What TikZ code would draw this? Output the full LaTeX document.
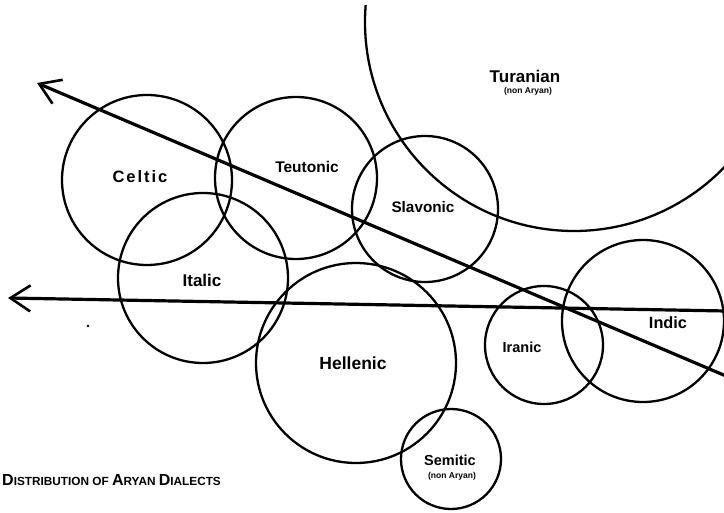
\documentclass[tikz,border=0pt]{standalone}
\usepackage{fontspec}
\setmainfont{Liberation Sans}
\usetikzlibrary{arrows.meta}
\tikzset{
  ring/.style={circle, draw=black, line width=2.3pt, inner sep=0pt, outer sep=0pt},
  lbl/.style={font=\bfseries, inner sep=0pt, text=black},
  sub/.style={font=\bfseries\fontsize{8.5}{9}\selectfont, inner sep=0pt, text=black},
  axis/.style={line width=3.2pt, -{Straight Barb[length=20pt,width=26pt,line width=2.6pt]}},
}
\newcommand{\ttlBig}[1]{\fontsize{16}{18}\selectfont #1}
\newcommand{\ttlSm}[1]{\fontsize{11.8}{18}\selectfont #1}
\begin{document}
\begin{tikzpicture}[x=1pt,y=-1pt]
\useasboundingbox (0,0) rectangle (724,513);
\clip (0,0) rectangle (724,513);
\fill[white] (0,0) rectangle (724,513);
% circles
\begin{scope}
\clip (0,6) rectangle (724,513);
\node[ring, minimum size=418pt] (turanian) at (574,22) {};
\end{scope}
\node[ring, minimum size=170pt] (celtic) at (147,180) {};
\node[ring, minimum size=162pt] (teutonic) at (296,178) {};
\node[ring, minimum size=146pt] (slavonic) at (425,209) {};
\node[ring, minimum size=170pt] (italic) at (203,278) {};
\node[ring, minimum size=200pt] (hellenic) at (356,363) {};
\node[ring, minimum size=118pt] (iranic) at (544,345) {};
\node[ring, minimum size=162pt] (indic) at (643,321) {};
\node[ring, minimum size=100pt] (semitic) at (451,459) {};
% labels
\node[lbl, font=\bfseries\fontsize{17}{18}\selectfont] (tTuranian) at (525,76) {Turanian};
\node[sub] (tTuranianSub) at (528,91) {(non Aryan)};
\node[lbl, font=\bfseries\addfontfeature{LetterSpace=12}\fontsize{16.5}{18}\selectfont] (tCeltic) at (140,177) {Celtic};
\node[lbl, font=\bfseries\fontsize{15.5}{18}\selectfont] (tTeutonic) at (307,167) {Teutonic};
\node[lbl, font=\bfseries\fontsize{15.3}{18}\selectfont] (tSlavonic) at (423,207) {Slavonic};
\node[lbl, font=\bfseries\fontsize{17}{18}\selectfont] (tItalic) at (202,280) {Italic};
\node[lbl, font=\bfseries\fontsize{17.5}{18}\selectfont] (tHellenic) at (353,363) {Hellenic};
\node[lbl, font=\bfseries\fontsize{14.5}{18}\selectfont] (tIranic) at (522,347) {Iranic};
\node[lbl, font=\bfseries\fontsize{16.3}{18}\selectfont] (tIndic) at (668,323) {Indic};
\node[lbl, font=\bfseries\fontsize{14.5}{18}\selectfont] (tSemitic) at (450,460) {Semitic};
\node[sub] (tSemiticSub) at (452,476) {(non Aryan)};
% title
\node[lbl, anchor=west] (title) at (2,480) {\ttlBig{D}\ttlSm{ISTRIBUTION} \ttlSm{OF} \ttlBig{A}\ttlSm{RYAN} \ttlBig{D}\ttlSm{IALECTS}};
% arrows
\coordinate (upR) at (726,376);
\coordinate (upL) at (37,83);
\coordinate (loR) at (726,311);
\coordinate (loL) at (8,298);
\draw[axis] (upR) -- (upL);
\draw[axis] (loR) -- (loL);
% speck
\fill (88,326) circle (1.3pt);
\end{tikzpicture}
\end{document}
